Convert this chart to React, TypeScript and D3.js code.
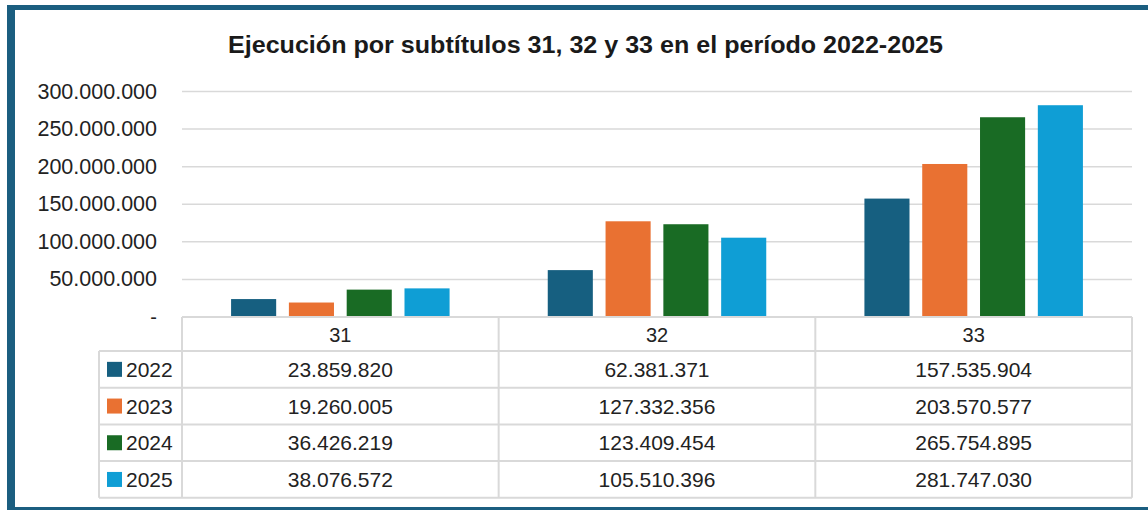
import * as d3 from "d3";

const categories = ["31", "32", "33"];
const years = ["2022", "2023", "2024", "2025"];
const values2022 = [23859820, 62381371, 157535904];
const values2023 = [19260005, 127332356, 203570577];
const values2024 = [36426219, 123409454, 265754895];
const values2025 = [38076572, 105510396, 281747030];
const yTicks = [0, 50000000, 100000000, 150000000, 200000000, 250000000, 300000000];
const colors = ["#165f80", "#e97132", "#196b24", "#0f9ed5"];

const title = "Ejecución por subtítulos 31, 32 y 33 en el período 2022-2025";

const W = 1148;
const H = 510;

const fmt = d3
  .formatLocale({ decimal: ",", thousands: ".", grouping: [3], currency: ["$", ""] })
  .format(",d");

export default function App() {
  const series = [values2022, values2023, values2024, values2025];

  const plotLeft = 182;
  const plotRight = 1132;
  const y = d3.scaleLinear().domain([0, 300000000]).range([317, 91.5]);

  const colScale = d3.scaleBand().domain(categories).range([plotLeft, plotRight]).padding(0);
  const groupScale = d3
    .scaleBand()
    .domain(categories)
    .range([plotLeft, plotRight])
    .paddingInner(0.31)
    .paddingOuter(0.155);
  const barScale = d3
    .scaleBand()
    .domain(years)
    .range([0, groupScale.bandwidth()])
    .paddingInner(0.22)
    .paddingOuter(0);

  // table geometry
  const headerTop = y(0);
  const headerBottom = 351;
  const rowH = 36.7;
  const legendLeft = 99;
  const rowTop = (i: number) => headerBottom + i * rowH;
  const tableBottom = rowTop(years.length);
  const grid = "#d9d9d9";
  const font = "'Liberation Sans', Arial, sans-serif";
  const textColor = "#222";

  return (
    <svg
      width={W}
      height={H}
      style={{ position: "absolute", left: 0, top: 0, background: "#fff" }}
    >
      <rect x={0} y={0} width={W} height={H} fill="#fff" />

      {/* frame */}
      <rect x={7} y={5} width={W - 7} height={5} fill="#1b5e80" />
      <rect x={7} y={5} width={8} height={H - 5} fill="#1b5e80" />
      <rect x={7} y={507} width={W - 7} height={3} fill="#1b5e80" />

      <text
        x={585.5}
        y={45}
        textAnchor="middle"
        dominantBaseline="central"
        fontFamily={font}
        fontWeight="bold"
        fontSize={23}
        fill="#1a1a1a"
        textLength={715}
        lengthAdjust="spacingAndGlyphs"
      >
        {title}
      </text>

      {/* gridlines */}
      {yTicks
        .filter((t) => t > 0)
        .map((t) => (
          <line
            key={t}
            x1={plotLeft}
            x2={plotRight}
            y1={y(t)}
            y2={y(t)}
            stroke={grid}
            strokeWidth={1.5}
          />
        ))}

      {/* y axis labels */}
      {yTicks.map((t) => (
        <text
          key={t}
          x={157}
          y={y(t)}
          textAnchor="end"
          dominantBaseline="central"
          fontFamily={font}
          fontSize={t === 0 ? 20 : 21.5}
          fill={textColor}
        >
          {t === 0 ? "-" : fmt(t)}
        </text>
      ))}

      {/* bars */}
      {categories.map((c, ci) => (
        <g key={c} transform={`translate(${groupScale(c)},0)`}>
          {years.map((yr, si) => (
            <rect
              key={yr}
              x={barScale(yr)}
              y={y(series[si][ci])}
              width={barScale.bandwidth()}
              height={y(0) - y(series[si][ci])}
              fill={colors[si]}
            />
          ))}
        </g>
      ))}

      {/* data table */}
      <g fill="none" stroke={grid} strokeWidth={2}>
        <line x1={plotLeft} x2={plotRight} y1={headerTop} y2={headerTop} />
        {years.map((yr, i) => (
          <line key={yr} x1={legendLeft} x2={plotRight} y1={rowTop(i)} y2={rowTop(i)} />
        ))}
        <line x1={legendLeft} x2={plotRight} y1={tableBottom} y2={tableBottom} />
        <line x1={legendLeft} x2={legendLeft} y1={headerBottom} y2={tableBottom} />
        {categories.map((c) => (
          <line
            key={c}
            x1={colScale(c)}
            x2={colScale(c)}
            y1={headerTop}
            y2={tableBottom}
          />
        ))}
        <line x1={plotRight} x2={plotRight} y1={headerTop} y2={tableBottom} />
      </g>

      {categories.map((c) => (
        <text
          key={c}
          x={(colScale(c) ?? 0) + colScale.bandwidth() / 2}
          y={(headerTop + headerBottom) / 2 + 1}
          textAnchor="middle"
          dominantBaseline="central"
          fontFamily={font}
          fontSize={20}
          fill={textColor}
        >
          {c}
        </text>
      ))}

      {years.map((yr, si) => {
        const cy = rowTop(si) + rowH / 2;
        return (
          <g key={yr}>
            <rect x={107} y={cy - 7.5} width={15} height={15} fill={colors[si]} />
            <text
              x={126}
              y={cy}
              dominantBaseline="central"
              fontFamily={font}
              fontSize={21}
              fill={textColor}
            >
              {yr}
            </text>
            {categories.map((c, ci) => (
              <text
                key={c}
                x={(colScale(c) ?? 0) + colScale.bandwidth() / 2}
                y={cy}
                textAnchor="middle"
                dominantBaseline="central"
                fontFamily={font}
                fontSize={21}
                fill={textColor}
              >
                {fmt(series[si][ci])}
              </text>
            ))}
          </g>
        );
      })}
    </svg>
  );
}
